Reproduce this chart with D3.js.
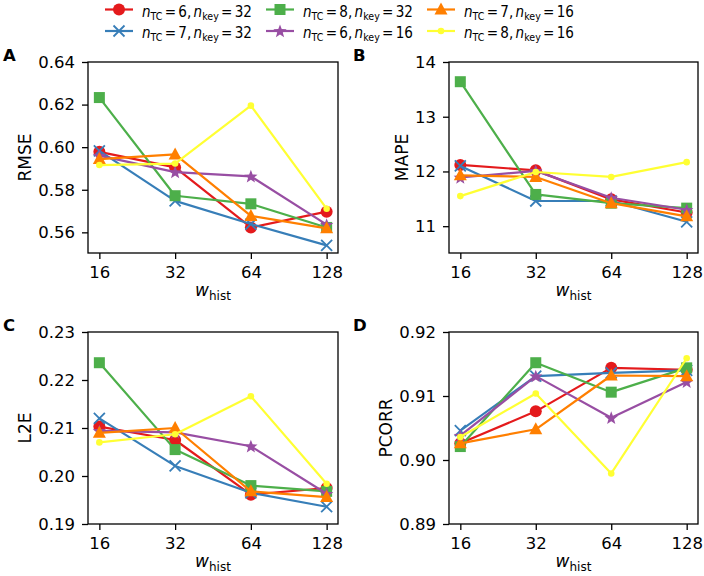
<!DOCTYPE html>
<html><head><meta charset="utf-8">
<script src="https://cdn.jsdelivr.net/npm/d3@7"></script>
<style>
body{margin:0;background:#fff;}
text{font-family:"DejaVu Sans",sans-serif;fill:#000;}
</style></head>
<body><svg id="c" width="704" height="576"></svg>
<script>
const xValues = [16, 32, 64, 128];
const xTickLabels = ["16", "32", "64", "128"];
const seriesNames = [
  {tc:"6", key:"32"}, {tc:"7", key:"32"}, {tc:"8", key:"32"},
  {tc:"6", key:"16"}, {tc:"7", key:"16"}, {tc:"8", key:"16"}
];
const seriesColors = ["#e41a1c", "#377eb8", "#4daf4a", "#984ea3", "#ff7f00", "#ffff33"];
const seriesMarkers = ["circle", "x", "square", "star", "triangle", "point"];

// Panel A: RMSE
const rmse = [
  [0.5978, 0.5905, 0.5623, 0.5697],
  [0.5983, 0.5748, 0.5639, 0.5539],
  [0.6233, 0.5772, 0.5734, 0.5623],
  [0.5960, 0.5883, 0.5863, 0.5636],
  [0.5944, 0.5966, 0.5677, 0.5619],
  [0.5916, 0.5923, 0.6195, 0.5711]
];
const rmseTicks = [0.56, 0.58, 0.60, 0.62, 0.64];
// Panel B: MAPE
const mape = [
  [12.12, 12.02, 11.49, 11.25],
  [12.10, 11.46, 11.46, 11.08],
  [13.64, 11.58, 11.42, 11.33],
  [11.89, 12.01, 11.52, 11.30],
  [11.93, 11.90, 11.42, 11.18],
  [11.55, 11.99, 11.90, 12.17]
];
const mapeTicks = [11, 12, 13, 14];
// Panel C: L2E
const l2e = [
  [0.2103, 0.2075, 0.1961, 0.1975],
  [0.2120, 0.2021, 0.1965, 0.1936],
  [0.2236, 0.2055, 0.1980, 0.1968],
  [0.2094, 0.2091, 0.2062, 0.1963],
  [0.2090, 0.2100, 0.1968, 0.1956],
  [0.2070, 0.2087, 0.2166, 0.1984]
];
const l2eTicks = [0.19, 0.20, 0.21, 0.22, 0.23];
// Panel D: PCORR
const pcorr = [
  [0.9026, 0.9076, 0.9144, 0.9141],
  [0.9046, 0.9131, 0.9136, 0.9140],
  [0.9021, 0.9152, 0.9106, 0.9144],
  [0.9038, 0.9131, 0.9066, 0.9122],
  [0.9026, 0.9048, 0.9132, 0.9131],
  [0.9036, 0.9104, 0.8979, 0.9159]
];
const pcorrTicks = [0.89, 0.90, 0.91, 0.92];

const panels = [
  {letter:"A", ylabel:"RMSE", data:rmse, ticks:rmseTicks, ydom:[0.5503, 0.64], fmt:".2f", box:[88, 62, 338, 253]},
  {letter:"B", ylabel:"MAPE", data:mape, ticks:mapeTicks, ydom:[10.51, 14], fmt:"d", box:[449, 62, 698, 253]},
  {letter:"C", ylabel:"L2E", data:l2e, ticks:l2eTicks, ydom:[0.19, 0.23], fmt:".2f", box:[88, 332, 338, 524]},
  {letter:"D", ylabel:"PCORR", data:pcorr, ticks:pcorrTicks, ydom:[0.89, 0.92], fmt:".2f", box:[449, 332, 698, 524]}
];

const svg = d3.select("#c");
const FS = 16.5;
const LW = 2.2;

function star(r){
  const pts=[];
  for(let i=0;i<10;i++){
    const rr = i%2===0 ? r : r*0.42;
    const a = -Math.PI/2 + i*Math.PI/5;
    pts.push([rr*Math.cos(a), rr*Math.sin(a)]);
  }
  return "M"+pts.map(p=>p.join(",")).join("L")+"Z";
}
function drawMarker(g, type, color, x, y){
  if(type==="circle") g.append("circle").attr("cx",x).attr("cy",y).attr("r",6).attr("fill",color);
  else if(type==="square") g.append("rect").attr("x",x-5.5).attr("y",y-5.5).attr("width",11).attr("height",11).attr("fill",color);
  else if(type==="triangle") g.append("path").attr("d",`M${x},${y-7}L${x+6.5},${y+5}L${x-6.5},${y+5}Z`).attr("fill",color);
  else if(type==="star") g.append("path").attr("d",star(7)).attr("transform",`translate(${x},${y+0.5})`).attr("fill",color);
  else if(type==="point") g.append("circle").attr("cx",x).attr("cy",y).attr("r",3.3).attr("fill",color);
  else if(type==="x") g.append("path").attr("d",`M${x-5.5},${y-5.5}L${x+5.5},${y+5.5}M${x-5.5},${y+5.5}L${x+5.5},${y-5.5}`).attr("stroke",color).attr("stroke-width",1.8).attr("fill","none");
}

panels.forEach(p=>{
  const [x0,y0,x1,y1] = p.box;
  const lo = 16/Math.pow(2,0.15), hi = 128*Math.pow(2,0.15);
  const x = d3.scaleLog().base(2).domain([lo,hi]).range([x0,x1]);
  const y = d3.scaleLinear().domain(p.ydom).range([y1,y0]);
  const g = svg.append("g");
  // series
  p.data.forEach((vals,si)=>{
    const line = d3.line().x((d,i)=>x(xValues[i])).y(d=>y(d));
    g.append("path").datum(vals).attr("d",line).attr("fill","none").attr("stroke",seriesColors[si]).attr("stroke-width",LW).attr("stroke-linejoin","round");
    vals.forEach((v,i)=>drawMarker(g, seriesMarkers[si], seriesColors[si], x(xValues[i]), y(v)));
  });
  // frame
  g.append("rect").attr("x",x0).attr("y",y0).attr("width",x1-x0).attr("height",y1-y0).attr("fill","none").attr("stroke","#000").attr("stroke-width",1.3);
  // axes
  const xa = d3.axisBottom(x).tickValues(xValues).tickFormat((d,i)=>xTickLabels[i]).tickSize(6).tickPadding(7);
  const gx = svg.append("g").attr("transform",`translate(0,${y1})`).call(xa);
  const ya = d3.axisLeft(y).tickValues(p.ticks).tickFormat(d3.format(p.fmt)).tickSize(6).tickPadding(7);
  const gy = svg.append("g").attr("transform",`translate(${x0},0)`).call(ya);
  [gx,gy].forEach(a=>{
    a.select(".domain").remove();
    a.selectAll(".tick line").attr("stroke","#000").attr("stroke-width",1.3);
    a.selectAll(".tick text").attr("font-size",FS).attr("font-family","DejaVu Sans").attr("fill","#000");
  });
  // y label placed left of the tick labels
  const tb = gy.node().getBBox();
  const labX = x0 + tb.x - 7.5;
  svg.append("text").attr("transform",`translate(${labX},${(y0+y1)/2}) rotate(-90)`).attr("text-anchor","middle").attr("font-size",17).text(p.ylabel);
  // x label
  const xl = svg.append("text").attr("x",(x0+x1)/2).attr("y",y1+43).attr("text-anchor","middle").attr("font-size",17);
  xl.append("tspan").attr("font-style","italic").text("w");
  xl.append("tspan").attr("font-size",12).attr("dy",3.5).text("hist");
  // panel letter
  svg.append("text").attr("x",x0 < 200 ? 3 : 353).attr("y",y0-1).attr("font-size",16.5).attr("font-weight","bold").text(p.letter);
});

// legend
const legCols = [105, 266, 427];
const legRows = [9.5, 31];
const LFS = 15;
seriesNames.forEach((s,i)=>{
  const col = Math.floor(i/2), row = i%2;
  const lx = legCols[col], ly = legRows[row];
  const g = svg.append("g");
  g.append("line").attr("x1",lx).attr("x2",lx+28).attr("y1",ly).attr("y2",ly).attr("stroke",seriesColors[i]).attr("stroke-width",LW);
  drawMarker(g, seriesMarkers[i], seriesColors[i], lx+14, ly);
  const tg = g.append("g").attr("transform",`translate(${lx+37},${ly+7})`);
  const t = tg.append("text").attr("x",0).attr("y",0).attr("font-size",LFS);
  t.append("tspan").attr("font-style","italic").text("n");
  t.append("tspan").attr("font-size",LFS*0.7).attr("dy",3).text("TC");
  t.append("tspan").attr("dy",-3).attr("dx",2.5).text("=");
  t.append("tspan").attr("dx",2.5).text(s.tc + ",");
  t.append("tspan").attr("dx",2.5).attr("font-style","italic").text("n");
  t.append("tspan").attr("font-size",LFS*0.7).attr("dy",3).text("key");
  t.append("tspan").attr("dy",-3).attr("dx",2.5).text("=");
  t.append("tspan").attr("dx",2.5).text(s.key);
  const w = t.node().getBBox().width;
  t.attr("transform",`scale(${110/w},1)`);
});
</script></body></html>
